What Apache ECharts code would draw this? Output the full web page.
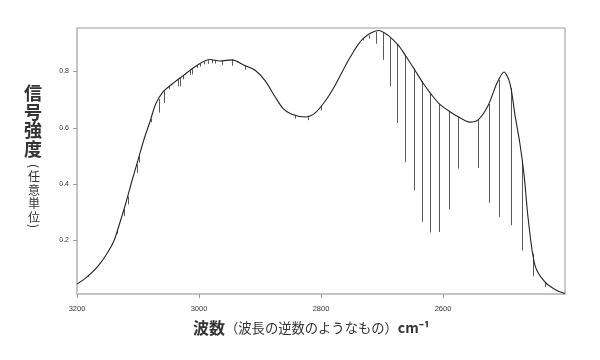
<!DOCTYPE html>
<html>
<head>
<meta charset="utf-8">
<script src="https://cdn.jsdelivr.net/npm/echarts@6/dist/echarts.min.js"></script>
<style>html,body{margin:0;padding:0;background:#fff}#c{width:600px;height:360px}</style>
</head>
<body>
<div id="c"></div>
<script>
// Envelope (smooth band) – wavenumber (cm^-1) and intensity
const envX = [3200, 3184, 3167, 3151, 3139, 3130, 3120, 3110, 3100, 3090, 3080, 3071, 3059, 3043, 3026, 3003, 2982, 2966, 2946, 2925, 2908, 2892, 2875, 2862, 2848, 2826, 2810, 2793, 2777, 2752, 2731, 2706, 2690, 2673, 2660, 2646, 2632, 2618, 2605, 2588, 2573, 2556, 2542, 2526, 2512, 2500, 2490, 2482, 2474, 2467, 2460, 2449, 2433, 2414, 2400];
const envY = [0.045, 0.070, 0.105, 0.153, 0.201, 0.261, 0.332, 0.411, 0.485, 0.560, 0.624, 0.684, 0.727, 0.757, 0.785, 0.822, 0.842, 0.837, 0.841, 0.821, 0.804, 0.768, 0.709, 0.668, 0.648, 0.638, 0.652, 0.695, 0.750, 0.851, 0.916, 0.945, 0.928, 0.892, 0.851, 0.804, 0.756, 0.715, 0.683, 0.656, 0.636, 0.620, 0.629, 0.679, 0.756, 0.798, 0.755, 0.645, 0.545, 0.430, 0.270, 0.110, 0.053, 0.023, 0.012];

// Absorption lines: position and lower end
const lineX = [3182, 3134, 3123, 3117, 3102, 3098, 3083, 3079, 3066, 3057, 3049, 3034, 3031, 3026, 3014, 3012, 3004, 2998, 2991, 2985, 2979, 2973, 2963, 2946, 2925, 2843, 2821, 2800,
               2731, 2721, 2710, 2699, 2687, 2675, 2662, 2648, 2635, 2621, 2606, 2590, 2575, 2542, 2525, 2508, 2489, 2470, 2452, 2433];
const lineBottom = [0.070, 0.224, 0.286, 0.328, 0.440, 0.476, 0.605, 0.620, 0.654, 0.688, 0.737, 0.747, 0.747, 0.772, 0.787, 0.789, 0.812, 0.817, 0.825, 0.827, 0.829, 0.828, 0.823, 0.820, 0.806, 0.633, 0.627, 0.662,
                    0.910, 0.916, 0.898, 0.841, 0.747, 0.617, 0.478, 0.378, 0.266, 0.228, 0.230, 0.310, 0.455, 0.457, 0.334, 0.283, 0.254, 0.165, 0.073, 0.035];

const xTicks = [3200, 3000, 2800, 2600];
const yTicks = [0.2, 0.4, 0.6, 0.8];

function envAt(x) {
  for (let i = 0; i < envX.length - 1; i++) {
    const a = envX[i], b = envX[i + 1];
    if (x <= a && x >= b) {
      const t = (a - x) / (a - b);
      return envY[i] + t * (envY[i + 1] - envY[i]);
    }
  }
  return envY[envY.length - 1];
}

const envData = envX.map((x, i) => [x, envY[i]]);
const lineData = lineX.map((x, i) => [x, envAt(x), lineBottom[i]]);

const chart = echarts.init(document.getElementById('c'));
const labelFont = 'Liberation Sans, Arial, sans-serif';
const jp = 'Noto Sans CJK JP';
chart.setOption({
  animation: false,
  backgroundColor: '#fff',
  grid: { left: 77, right: 35, top: 28, bottom: 66, show: true, borderColor: '#999', borderWidth: 1 },
  xAxis: {
    type: 'value', min: 2400, max: 3200, inverse: true,
    splitLine: { show: false },
    axisLine: { show: true, lineStyle: { color: '#c4c4c4', width: 2 } },
    axisTick: { show: true, length: 4, lineStyle: { color: '#999' }, customValues: xTicks },
    axisLabel: { fontSize: 7.5, color: '#333', fontFamily: labelFont, margin: 11, customValues: xTicks, formatter: v => String(v) }
  },
  yAxis: {
    type: 'value', min: 0.01, max: 0.954,
    splitLine: { show: false },
    axisLine: { show: true, lineStyle: { color: '#c4c4c4', width: 2 } },
    axisTick: { show: true, length: 4, lineStyle: { color: '#999' }, customValues: yTicks },
    axisLabel: { fontSize: 7, color: '#333', fontFamily: labelFont, margin: 8, customValues: yTicks, formatter: v => v.toFixed(1) }
  },
  series: [
    {
      type: 'custom', z: 2,
      data: lineData,
      renderItem: function (params, api) {
        const x = api.value(0), t = api.value(1), b = api.value(2);
        const p1 = api.coord([x, t]);
        const p2 = api.coord([x, b]);
        return { type: 'line', shape: { x1: Math.round(p1[0]) + 0.5, y1: p1[1], x2: Math.round(p2[0]) + 0.5, y2: p2[1] }, style: { stroke: '#5a5a5a', lineWidth: 1 } };
      }
    },
    {
      type: 'line', z: 3, data: envData, smooth: 0.3, showSymbol: false,
      lineStyle: { color: '#222', width: 1.1 }
    }
  ],
  graphic: [
    { type: 'text', left: 24, top: 84, style: { text: '信\n号\n強\n度', fontSize: 18, lineHeight: 18.5, fontWeight: 'bold', fill: '#333', fontFamily: jp, align: 'center' } },
    { type: 'text', x: 34, y: 166, rotation: -Math.PI / 2, style: { text: '(', fontSize: 12, fill: '#333', fontFamily: jp, align: 'center', verticalAlign: 'middle' } },
    { type: 'text', x: 34, y: 170, style: { text: '任\n意\n単\n位', fontSize: 12, lineHeight: 13.5, fill: '#333', fontFamily: jp, align: 'center', verticalAlign: 'top' } },
    { type: 'text', x: 34, y: 226, rotation: -Math.PI / 2, style: { text: ')', fontSize: 12, fill: '#333', fontFamily: jp, align: 'center', verticalAlign: 'middle' } },
    { type: 'text', left: 193, top: 320, style: {
        text: '{b|波数}{n|（波長の逆数のようなもの）}{c|cm⁻¹}',
        fill: '#333', fontFamily: jp,
        rich: {
          b: { fontSize: 16, fontWeight: 'bold', fill: '#333', fontFamily: jp },
          n: { fontSize: 13.3, fill: '#333', fontFamily: jp },
          c: { fontSize: 14, fontWeight: 'bold', fill: '#333', fontFamily: jp }
        }
      } }
  ]
});
</script>
</body>
</html>
